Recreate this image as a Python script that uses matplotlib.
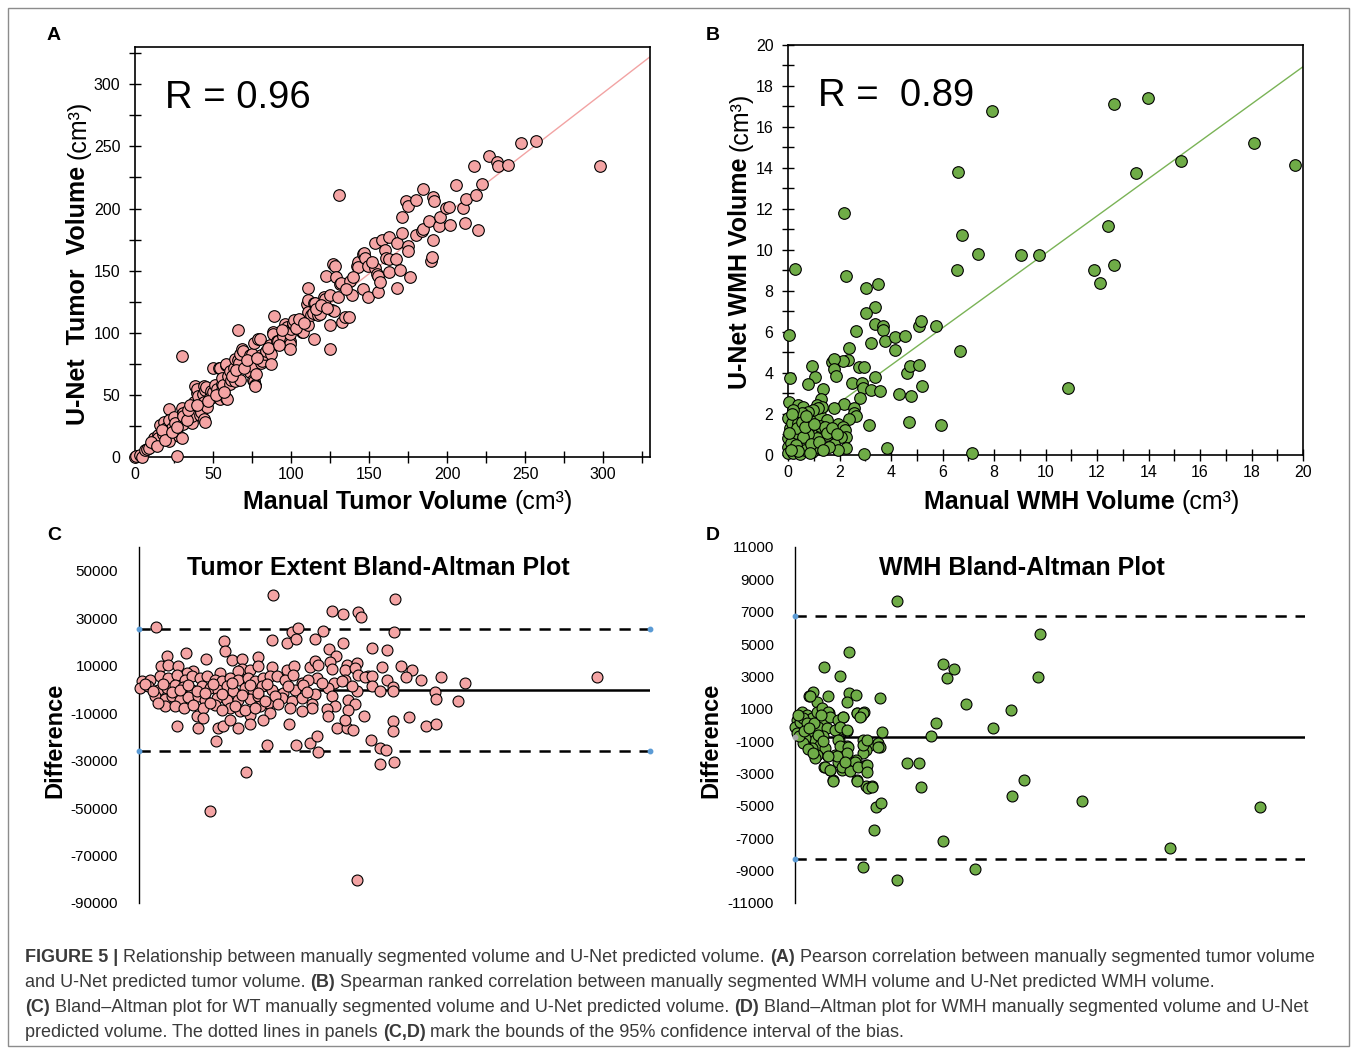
import numpy as np
import matplotlib
matplotlib.use("Agg")
import matplotlib.pyplot as plt
from matplotlib.ticker import MultipleLocator, FuncFormatter
from matplotlib.patches import Rectangle

plt.rcParams['font.family'] = ['Liberation Sans', 'DejaVu Sans']
plt.rcParams['axes.unicode_minus'] = False

# ---------------- Panel A: tumor volume (cm3) ----------------
tumor_manual = [
    0, 0.6, 3, 4.3, 6.4, 8, 9, 12, 12.8, 15,
    15, 16, 18, 18.8, 20, 20.3, 21.7, 22, 22, 23.5,
    24.8, 25.6, 26.7, 28.5, 30, 30, 30.6, 29.8, 31, 31,
    36, 36.4, 36.3, 38, 38.7, 39.5, 39.5, 40.3, 41.7, 41.9,
    42.4, 43.8, 44, 44.5, 44.5, 44.7, 44.9, 45.5, 46, 48,
    49, 49.7, 49.7, 50.2, 51.5, 52.3, 53.6, 54.5, 54.5, 55.7,
    56, 56, 56.6, 58, 58, 58.3, 58.8, 59.4, 60.7, 60.9,
    61.7, 63.3, 63.8, 64, 66, 66, 66.4, 67, 67.5, 68.5,
    69.4, 73.7, 73.7, 74, 74.8, 75, 75.8, 76, 76, 76.9,
    77, 77.4, 79, 80, 81, 81, 81.6, 83, 84, 86.8,
    87, 87, 88.7, 88.7, 89, 91, 91.8, 95, 95, 96,
    97.2, 99, 99, 99.4, 99.4, 100, 101, 101.5, 102, 106.7,
    107.9, 110, 111, 111, 111, 111, 112.5, 114.3, 114.6, 115,
    115.4, 117, 118.8, 120.8, 121.8, 122.5, 124.8, 125, 125, 126,
    127, 127.2, 128.2, 129, 130, 130.8, 131.5, 132, 132.5, 134.5,
    137, 137.8, 139, 142, 143, 143, 146, 146, 147, 147.5,
    149, 149, 154, 154, 155, 156, 156, 157, 158, 160,
    161, 162.7, 162.7, 163, 167, 168, 168, 170, 170.8, 171,
    173.4, 174.7, 175, 175, 176, 180, 180, 183.6, 184.4, 184.4,
    188.6, 189.4, 190, 191, 191, 191.5, 195, 195.6, 199, 201,
    202, 206, 210, 211.6, 212.4, 217, 218.4, 219.7, 222.6, 226.8,
    232, 232.5, 239, 247.5, 257, 298,
    10, 14, 17, 19, 24, 27, 33, 34, 35, 40,
    47, 52, 57, 62, 65, 70, 72, 78, 85, 92,
    94, 103, 105, 108, 116, 119, 123, 135, 140, 152,
]
tumor_unet = [
    0, 0.8, 1.3, 0.3, 5.4, 6.4, 7, 15, 10.2, 17.4,
    15.5, 25.8, 18.2, 27.9, 23, 20.9, 38.4, 12.9, 30, 23.6,
    32, 27.7, 1, 16.6, 39.7, 15.5, 35.4, 81.3, 26.6, 33,
    36.8, 27, 33, 44, 57, 51.8, 55, 48.8, 34, 40,
    36.5, 51, 57, 44.5, 30.3, 53.7, 28, 56, 40.5, 48.4,
    53, 48.3, 71.6, 52.2, 58, 55, 71.4, 47, 71.3, 58.5,
    54, 63.6, 58, 74, 47.5, 75, 47, 65, 69, 59,
    62, 71.4, 78.6, 61, 102, 78, 76, 62, 83, 87,
    85, 68.4, 82, 76, 73, 83, 62, 61, 92, 58,
    57, 66.8, 95, 94.7, 82, 76, 77.5, 83, 85, 90,
    83, 75, 101, 98.7, 113.5, 93, 93, 99, 97.4, 106.8,
    105, 93, 90.6, 87, 99, 103, 107, 108, 110, 100.6,
    101, 122.8, 136, 126, 117, 106.5, 114, 116, 124, 95,
    124, 114, 115.4, 128.8, 127, 146, 106, 86.7, 130, 118,
    155, 117.6, 154, 145, 129, 211, 139, 140, 109, 113,
    113, 141.7, 130.7, 154, 157, 152.7, 135, 163, 164.5, 160.5,
    154, 129, 152, 172, 147.6, 145.4, 133, 141, 175, 167,
    160, 159, 149, 177, 159, 172, 136, 150.5, 193, 180.6,
    205.8, 170, 166, 201.8, 145, 206.6, 178.4, 182, 183.8, 216,
    190, 158, 161, 175, 209, 206, 186, 193, 200.7, 201,
    187, 218.7, 200.4, 188.6, 207.7, 234, 211, 182.5, 220, 242,
    237.5, 234, 235, 252.8, 254, 234,
    12, 9, 22, 14, 20, 24, 30, 38, 42, 42,
    45, 50, 52, 65, 70, 72, 78, 80, 88, 90,
    102, 104, 111, 108, 119, 122, 120, 135, 145, 157,
]
tumor_fit = (0.97, 2.0)          # slope, intercept
tumor_r_text = "R = 0.96"

# ---------------- Panel B: WMH volume (cm3) ----------------
wmh_manual = [
    13.97, 12.67, 7.92, 18.1, 15.28, 19.67, 13.5, 6.6, 2.17, 12.43,
    6.76, 7.38, 9.04, 9.74, 0.29, 6.56, 11.89, 12.67, 12.11, 2.25,
    3.04, 3.5, 3.37, 3.04, 3.37, 3.67, 3.67, 0.02, 2.63, 3.21,
    3.78, 4.15, 4.56, 4.15, 5.07, 5.15, 5.73, 6.67, 2.38, 2.34,
    2.14, 1.69, 1.79, 1.79, 1.85, 0.92, 1.03, 0.79, 0.08, 0.02,
    2.74, 2.96, 3.37, 2.5, 2.87, 2.9, 3.21, 3.58, 2.8, 1.35,
    1.27, 1.11, 4.32, 4.77, 4.64, 4.75, 5.07, 5.19, 10.86, 4.7,
    5.95, 3.14, 2.17, 2.58, 2.58, 2.66, 1.79, 2.38, 1.95, 2.14,
    2.22, 2.26, 2.26, 2.06, 1.77, 1.93, 2.96, 3.83, 7.13, 1.47,
    1.5, 0.4, 0.6, 0.01, 0.27, 0.73, 0.98, 1.24, 1.5, 0.08,
    0.47, 0.92, 1.31, 0.01, 0.34, 0.73, 1.11, 0.01, 0.27, 0.6,
    0.92, 0.0, 0.2, 0.47, 1.24, 0.85, 1.44, 1.32, 1.18, 0.98,
    0.79, 0.53, 0.21, 0.47, 0.27, 0.79, 1.5, 1.11, 0.67, 0.14,
    0.4, 0.1, 0.35, 0.6, 0.15, 0.55, 0.9, 1.2, 0.05, 0.3,
    0.65, 1.0, 1.7, 1.9, 1.6, 0.85, 0.4, 0.12, 1.35, 0.7,
]
wmh_unet = [
    17.43, 17.12, 16.8, 15.2, 14.36, 14.15, 13.74, 13.79, 11.82, 11.19,
    10.73, 9.79, 9.74, 9.74, 9.07, 9.02, 9.02, 9.27, 8.37, 8.75,
    8.13, 8.34, 7.2, 6.94, 6.37, 6.31, 6.1, 5.85, 6.06, 5.48,
    5.58, 5.77, 5.8, 5.12, 6.31, 6.54, 6.31, 5.07, 5.2, 4.63,
    4.59, 4.55, 4.68, 4.2, 3.84, 4.36, 3.79, 3.46, 3.77, 2.6,
    4.31, 4.28, 3.82, 3.53, 3.5, 3.25, 3.17, 3.14, 2.8, 3.2,
    2.73, 2.44, 2.98, 2.86, 4.02, 4.36, 4.39, 3.37, 3.25, 1.63,
    1.48, 1.48, 2.47, 2.28, 2.07, 1.92, 2.28, 1.76, 1.5, 1.38,
    1.22, 0.86, 0.36, 0.89, 0.52, 0.23, 0.03, 0.33, 0.08, 1.71,
    0.98, 2.44, 2.36, 1.79, 1.79, 1.63, 1.79, 1.95, 1.7, 1.3,
    1.22, 1.22, 1.06, 0.81, 0.73, 0.73, 0.81, 0.4, 0.33, 0.4,
    0.16, 0.1, 0.1, 0.05, 1.4, 1.43, 1.38, 2.36, 2.28, 2.2,
    2.1, 2.03, 2.2, 0.89, 1.06, 1.0, 1.06, 0.4, 0.24, 1.55,
    1.55, 0.6, 1.3, 0.9, 2.0, 1.6, 0.55, 0.65, 1.05, 0.5,
    1.35, 1.5, 1.3, 1.0, 0.4, 0.1, 0.2, 0.25, 0.25, 1.9,
]
wmh_fit = (0.91, 0.74)
wmh_r_text = "R =  0.89"

# ---------------- Panel C: tumor Bland-Altman ----------------
# mean volume (thousand mm3), difference (mm3)
ba_tumor_mean_k = [
    78.9, 10, 113.5, 119.8, 128.8, 130.3, 90, 93.5, 50.1, 77.9,
    86.7, 92.2, 103.3, 108, 50.5, 27.6, 16.5, 39.5, 54.8, 60.3,
    69.7, 111.7, 115.9, 119.8, 136.6, 12.7, 17.2, 23.1, 77.9, 86.7,
    91.2, 100.4, 103.3, 105.3, 112.1, 113.5, 122.3, 127.9, 60.3, 65.2,
    70, 31.9, 28, 47.5, 58.3, 104.3, 121, 126.8, 134.6, 1.6,
    6.5, 12.3, 17.2, 22.1, 27, 31.3, 35.8, 39.7, 44.6, 48.5,
    53.4, 58.3, 64.2, 68.1, 73, 76.9, 80.8, 85.7, 90.6, 95.5,
    99.4, 114.7, 121, 128.4, 132.7, 137, 0.6, 5.5, 11.3, 16.2,
    21.1, 26, 31, 36.8, 41.7, 46.6, 51.5, 55.4, 62.2, 67.1,
    72, 77.9, 84.7, 91.6, 96.5, 103.3, 111.2, 119, 127.8, 136.6,
    9.4, 15.3, 19.2, 24.1, 29, 34.8, 38.7, 45.6, 51.5, 58.3,
    65.2, 70, 75.9, 83.8, 89.6, 95.5, 101.4, 113.1, 122.9, 115.1,
    15.3, 21.1, 26.6, 33.9, 37.8, 44.6, 53.4, 59.3, 65.2, 71,
    76.9, 88.7, 101.4, 110.2, 126.8, 132.3, 122.9, 22.1, 34.8, 37.8,
    46.6, 49.5, 53.4, 58.3, 65.2, 73, 88, 111.2, 116, 121.9,
    125.8, 120.9, 45.2, 75.3, 92.2, 100.4, 104.7, 136.2, 104.9, 62.8,
    41.6, 127.8, 3.5, 8.4, 14.3, 19.2, 24.1, 29, 33.9, 38.7,
    43.6, 48.5, 54.4, 60.3, 65.2, 70, 75, 79.8, 87.7, 98.4,
    107.2, 124.9, 11.3, 31.9, 41.7, 48.5, 56.4, 62.2, 68.1, 74,
    81.8, 95.5,
    150.3, 149.7, 145.4, 142.5, 153.6, 160.5, 156.5, 145.4, 165.4, 177.3,
    191.2, 149.3, 149.3, 141.5, 174, 174.6, 187.3, 268.7, 158.7, 149.3,
    149.3, 168.5, 174.6, 141.5, 144.8, 141.5, 149.7,
]
ba_tumor_diff = [
    39780, 26460, 33200, 31800, 32500, 30680, 24360, 26040, 20580, 20860,
    19740, 21280, 21140, 24780, 16240, 15400, 14280, 12740, 12460, 12740,
    13720, 16940, 14280, 19740, 17360, 10030, 10310, 10030, 9520, 8120,
    10030, 9240, 11900, 10220, 11480, 8400, 10220, 10920, 8680, 8120,
    10030, 7720, 7020, 7020, 7720, 4600, 8120, 8820, 5740, 3650,
    4050, 5460, 4750, 6160, 4050, 5460, 4750, 5460, 4050, 3350,
    4750, 4050, 4750, 3350, 4750, 5460, 5460, 4050, 6160, 2650,
    4050, 2650, 4050, 6160, 5180, 5460, 560, 1250, -150, 560,
    1960, 980, -150, 1250, 560, -150, 1250, -570, 560, -150,
    1540, -150, -1550, -150, 1960, -1830, 560, 3350, -850, 1250,
    -2950, -4060, -2950, -4350, -3230, -2670, -4350, -3650, -4350, -4630,
    -4060, -2950, -5750, -3650, -5050, -3650, -6030, -2670, -4350, -7150,
    -7150, -6870, -7850, -11350, -7850, -6440, -7850, -9250, -10650, -7150,
    -9950, -7850, -7850, -8270, -6030, -11350, -8560, -15560, -16260, -12050,
    -16260, -15560, -12750, -16260, -14440, -12750, -14440, -11350, -16260, -16260,
    -16960, -12750, -21880, -23560, -23560, -22580, -19770, -21180, -26240, -34920,
    -51120, -80290, 2370, -850, 2370, -1270, -150, 1960, -850, -1550,
    2370, -1830, 2650, -2250, 1960, -1550, 2370, -2670, 1540, -1270,
    2650, 1250, -5750, -6440, -5750, -8560, -6870, -8560, -7850, -5050,
    -6030, -9250,
    38100, 24360, 16660, 9390, 9940, 8250, 5180, 4050, 4050, 5310,
    2660, 980, -570, -570, -1290, -4060, -4900, 5310, -11630, -13480,
    -17640, -15580, -14450, -24660, -25600, -31260, -30800,
]
ba_tumor_bias = -200
ba_tumor_loa = (25400, -25800)

# ---------------- Panel D: WMH Bland-Altman ----------------
ba_wmh_mean = [
    3990, 9620, 2120, 1140, 1780, 5820, 6240, 5950, 9510, 720,
    560, 1300, 2120, 2390, 2050, 3320, 6700, 8470, 880, 2420,
    2700, 2570, 1890, 1320, 5530, 7760, 5330, 3420, 2020, 1700,
    1730, 2660, 2940, 3260, 3320, 2790, 2040, 1990, 2650, 2410,
    2000, 2790, 2790, 1570, 1250, 1680, 1830, 2150, 1150, 1360,
    1480, 2440, 2790, 3000, 4410, 4880, 4940, 3160, 3370, 3100,
    8500, 8980, 11240, 18240, 5790, 14720, 2650, 7060, 3990,
    261, 457, 65, 196, 0, 653, 849, 1046, 1307, 1111,
    1372, 1699, 1895, 2417, 2679, 2548, 915, 1242, 1569, 1765,
    2025, 457, 588, 784, 392, 1111, 980, 653, 1176, 849,
    784, 1699, 1765, 2090, 2025, 1634, 1307, 2352, 2679, 2809,
    3272, 1176, 1372, 1830, 2156, 2483, 2809, 2809, 1502, 1960,
    2417, 2848, 3010, 65, 196, 327, 457, 130, 588,
    300, 500, 700, 150, 350, 900, 1100, 750, 550, 1000,
]
ba_wmh_diff = [
    7640, 5620, 4510, 3580, 3050, 3790, 3440, 2920, 2990, 2020,
    1810, 1770, 1980, 1870, 1400, 1650, 1300, 950, 1420, 740,
    780, 540, 490, 740, 100, -190, -660, -450, -350, -290,
    -950, -950, -1240, -1110, -1380, -1520, -1320, -1590, -1730, -2180,
    -2140, -2450, -2660, -1880, -1830, -2310, -2800, -2800, -2600, -2760,
    -3380, -3400, -3790, -3790, -2350, -2350, -3850, -5070, -4850, -6470,
    -4390, -3380, -4720, -5050, -7150, -7620, -8800, -8880, -9600,
    820, 620, 310, 0, -100, 405, 810, 1020, 810, 310,
    480, 310, 480, 750, 750, 480, -100, -170, -300, -100,
    -330, -310, -720, -930, -820, -660, -1240, -1440, -1440, -1850,
    -2060, -930, -1290, -1340, -1750, -1910, -1890, -2260, -1240, -930,
    -1340, -2575, -2750, -2610, -2820, -2575, -2470, -2880, -3460, -2260,
    -3460, -3880, -3850, -520, 200, 405, 100, 620, 1812,
    -1100, -1500, -1700, -700, -400, -600, -1000, 150, -200, 600,
]
ba_wmh_bias = -750
ba_wmh_loa = (6750, -8280)

# ---------------- figure ----------------
W, H = 1357, 1049
fig = plt.figure(figsize=(W / 100, H / 100), dpi=100)
PINK = '#f4a4a4'
GREEN = '#6fac47'


def rect(l, t, r, b):
    return [l / W, 1 - b / H, (r - l) / W, (b - t) / H]


def scatter_axes(ax, x, y, color, lim, major, minor, fit, fitcolor, rtext):
    ax.plot([0, lim], [fit[1], fit[0] * lim + fit[1]], color=fitcolor, lw=1.0, zorder=2)
    ax.scatter(x, y, s=70, c=color, edgecolors='black', linewidths=0.8, zorder=3, clip_on=False)
    ax.set_xlim(0, lim)
    ax.set_ylim(0, lim)
    for axis in (ax.xaxis, ax.yaxis):
        axis.set_major_locator(MultipleLocator(major))
        axis.set_minor_locator(MultipleLocator(minor))
    ax.tick_params(which='both', direction='inout', length=9, width=1.0, labelsize=11.5,
                   colors='black')
    ax.tick_params(axis='x', pad=3)
    ax.tick_params(axis='y', pad=6)
    for sp in ax.spines.values():
        sp.set_linewidth(1.2)
    ax.text(0.058, 0.875, rtext, transform=ax.transAxes, fontsize=27.5, va='center', ha='left')


axA = fig.add_axes(rect(135, 47, 650, 457))
scatter_axes(axA, tumor_manual, tumor_unet, PINK, 330, 50, 25, tumor_fit, '#f2a3a3', tumor_r_text)
axA.set_xticks([0, 50, 100, 150, 200, 250, 300])
axA.set_yticks([0, 50, 100, 150, 200, 250, 300])

axB = fig.add_axes(rect(788, 45, 1303, 455))
scatter_axes(axB, wmh_manual, wmh_unet, GREEN, 20, 2, 1, wmh_fit, '#7ab356', wmh_r_text)


def ba_axes(ax, x, y, color, xlim, ylim, yticks, bias, loa, end_dots_right):
    ax.set_xlim(0, xlim)
    ax.set_ylim(*ylim)
    for s in ('top', 'right', 'bottom'):
        ax.spines[s].set_visible(False)
    ax.spines['left'].set_linewidth(1.0)
    ax.set_xticks([])
    ax.set_yticks(yticks)
    ax.tick_params(axis='y', length=0, pad=15, labelsize=11)
    ax.plot([0, xlim], [bias, bias], color='black', lw=1.8, zorder=2, solid_capstyle='butt')
    for v in loa:
        ax.plot([0, xlim], [v, v], color='black', lw=1.8, dashes=(4.5, 3.5), zorder=2)
    ex = [0, xlim] if end_dots_right else [0]
    for v in loa:
        ax.plot(ex, [v] * len(ex), 'o', ms=3.2, color='#5b9bd5', zorder=4, clip_on=False)
    ax.scatter(x, y, s=62, c=color, edgecolors='black', linewidths=0.8, zorder=3, clip_on=False)


axC = fig.add_axes(rect(139, 547, 650, 903))
ba_axes(axC, ba_tumor_mean_k, ba_tumor_diff, PINK, 300, (-90000, 60000),
        list(range(-90000, 50001, 20000)), ba_tumor_bias, ba_tumor_loa, True)

axD = fig.add_axes(rect(795, 547, 1305, 903))
ba_axes(axD, ba_wmh_mean, ba_wmh_diff, GREEN, 20000, (-11000, 11000),
        list(range(-11000, 11001, 2000)), ba_wmh_bias, ba_wmh_loa, False)
axD.plot([0], [ba_wmh_bias], 'o', ms=3.2, color='#a6a6a6', zorder=4, clip_on=False)

# ---------------- overlay for free text ----------------
ov = fig.add_axes([0, 0, 1, 1])
ov.set_axis_off()
ov.set_xlim(0, 1)
ov.set_ylim(0, 1)


def P(x, y):
    return (x / W, 1 - y / H)


ov.add_patch(Rectangle(P(8, 1046), (1349 - 8) / W, (1046 - 8) / H, fill=False,
                       ec='#8c8c8c', lw=1.0, clip_on=False))

for letter, (x, y) in zip("ABCD", [(54, 36), (713, 36), (54, 535), (713, 535)]):
    ov.text(*P(x, y), letter, fontsize=14, fontweight='bold', ha='center', va='center')


def mixed(x, y, parts, size, rotation=0, color='black'):
    gap = 0.278 * size
    if rotation == 0:
        prev = ov.text(*P(x, y), parts[0][0], fontsize=size, color=color,
                       fontweight='bold' if parts[0][1] else 'normal', ha='left', va='baseline')
        for txt, bold in parts[1:]:
            prev = ov.annotate(txt, xy=(1, 0), xycoords=prev, xytext=(gap, 0),
                               textcoords='offset points', ha='left', va='bottom',
                               fontsize=size, color=color,
                               fontweight='bold' if bold else 'normal')
    else:
        prev = ov.text(*P(x, y), parts[0][0], fontsize=size, color=color, rotation=90,
                       fontweight='bold' if parts[0][1] else 'normal', ha='center', va='bottom')
        for txt, bold in parts[1:]:
            prev = ov.annotate(txt, xy=(0.5, 1), xycoords=prev, xytext=(0, gap),
                               textcoords='offset points', ha='center', va='bottom',
                               rotation=90, fontsize=size, color=color,
                               fontweight='bold' if bold else 'normal')


mixed(243, 509, [("Manual Tumor Volume", True), ("(cm\u00b3)", False)], 18)
mixed(78, 425, [("U-Net  Tumor  Volume", True), ("(cm\u00b3)", False)], 18, rotation=90)
mixed(924, 509, [("Manual WMH Volume", True), ("(cm\u00b3)", False)], 18)
mixed(740, 389, [("U-Net WMH Volume", True), ("(cm\u00b3)", False)], 18, rotation=90)

ov.text(*P(378, 568), "Tumor Extent Bland-Altman Plot", fontsize=18, fontweight='bold',
        ha='center', va='center')
ov.text(*P(1022, 568), "WMH Bland-Altman Plot", fontsize=18, fontweight='bold',
        ha='center', va='center')
ov.text(*P(55, 740), "Difference", fontsize=17, fontweight='bold', rotation=90,
        ha='center', va='center')
ov.text(*P(711, 740), "Difference", fontsize=17, fontweight='bold', rotation=90,
        ha='center', va='center')

# ---------------- caption ----------------
cap_lines = [
    [("FIGURE 5 |", True),
     ("Relationship between manually segmented volume and U-Net predicted volume.", False),
     ("(A)", True),
     ("Pearson correlation between manually segmented tumor volume", False)],
    [("and U-Net predicted tumor volume.", False), ("(B)", True),
     ("Spearman ranked correlation between manually segmented WMH volume and U-Net predicted WMH volume.", False)],
    [("(C)", True),
     ("Bland\u2013Altman plot for WT manually segmented volume and U-Net predicted volume.", False),
     ("(D)", True),
     ("Bland\u2013Altman plot for WMH manually segmented volume and U-Net", False)],
    [("predicted volume. The dotted lines in panels", False), ("(C,D)", True),
     ("mark the bounds of the 95% confidence interval of the bias.", False)],
]
for i, line in enumerate(cap_lines):
    mixed(25, 962 + 25 * i, line, 13.0, color='#3a3a3a')

fig.savefig("out.png", dpi=100)
